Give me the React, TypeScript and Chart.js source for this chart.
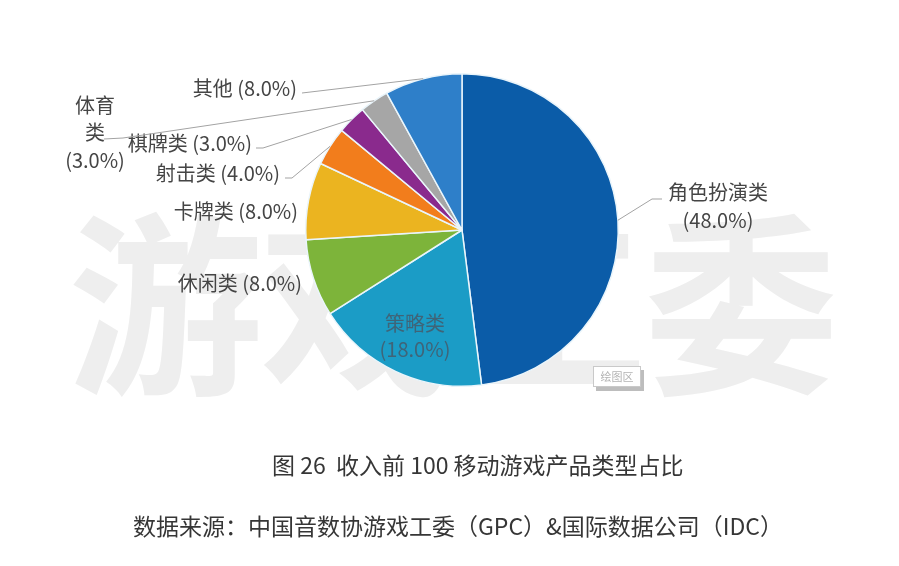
import React, { useEffect, useRef } from "react";
import { Chart, registerables } from "chart.js";

Chart.register(...registerables);

// ---- data ----
const categories = ["角色扮演类", "策略类", "休闲类", "卡牌类", "射击类", "棋牌类", "体育类", "其他"];
const shares = [48, 18, 8, 8, 4, 3, 3, 8];
const sliceColors = ["#0b5ca8", "#1b9cc6", "#7db43a", "#ebb420", "#f27d1c", "#8a2a8d", "#a6a6a6", "#2e7fc9"];
const titleText = "图 26  收入前 100 移动游戏产品类型占比";
const sourceText = "数据来源：中国音数协游戏工委（GPC）&国际数据公司（IDC）";
const watermarkText = "游戏工委";
const plotAreaTag = "绘图区";

// ---- label layout (text anchor positions, not marks) ----
type LabelSpec = {
  mode: "one" | "two" | "stack";
  x: number;
  y: number;
  gap?: number;
  align: CanvasTextAlign;
  color?: string;
  breakAt?: number;
  leader?: number[][];
};
const labelLayout: LabelSpec[] = [
  { mode: "two", x: 718, y: 192, gap: 28, align: "center", leader: [[662, 199], [652, 199]] },
  { mode: "two", x: 415, y: 323, gap: 26, align: "center", color: "#3f6478" },
  { mode: "one", x: 302, y: 283, align: "right" },
  { mode: "one", x: 298, y: 211, align: "right" },
  { mode: "one", x: 280, y: 173, align: "right", leader: [[285, 178], [292, 178]] },
  { mode: "one", x: 252, y: 143, align: "right", leader: [[256, 148], [263, 148]] },
  { mode: "stack", x: 95, y: 105, gap: 27.5, align: "center", breakAt: 2, leader: [[104, 139], [123, 138]] },
  { mode: "one", x: 297, y: 88, align: "right", leader: [[302, 93]] },
];

const FONT = '"Noto Sans CJK SC", "Noto Sans", sans-serif';

const labelPlugin = {
  id: "sliceLabels",
  afterDatasetsDraw(chart: any) {
    const ctx: CanvasRenderingContext2D = chart.ctx;
    const meta = chart.getDatasetMeta(0);
    ctx.save();
    meta.data.forEach((arc: any, i: number) => {
      const spec = labelLayout[i];
      if (!spec) return;
      const p = arc.getProps(["x", "y", "startAngle", "endAngle", "outerRadius"], true);
      const mid = (p.startAngle + p.endAngle) / 2;
      const ex = p.x + Math.cos(mid) * p.outerRadius;
      const ey = p.y + Math.sin(mid) * p.outerRadius;
      if (spec.leader) {
        ctx.beginPath();
        ctx.strokeStyle = "#a3a3a3";
        ctx.lineWidth = 1;
        ctx.moveTo(spec.leader[0][0], spec.leader[0][1]);
        for (let k = 1; k < spec.leader.length; k++) ctx.lineTo(spec.leader[k][0], spec.leader[k][1]);
        ctx.lineTo(ex, ey);
        ctx.stroke();
      }
      const name = categories[i];
      const pct = "(" + shares[i].toFixed(1) + "%)";
      let lines: string[];
      if (spec.mode === "one") lines = [name + " " + pct];
      else if (spec.mode === "two") lines = [name, pct];
      else lines = [name.slice(0, spec.breakAt), name.slice(spec.breakAt), pct];
      ctx.font = "20px " + FONT;
      ctx.fillStyle = spec.color || "#454545";
      ctx.textAlign = spec.align;
      ctx.textBaseline = "middle";
      lines.forEach((t, k) => ctx.fillText(t, spec.x, spec.y + k * (spec.gap || 0)));
    });
    ctx.restore();
  },
};

function PieChart() {
  const ref = useRef<HTMLCanvasElement | null>(null);
  useEffect(() => {
    if (!ref.current) return;
    const chart = new Chart(ref.current, {
      type: "pie",
      data: {
        labels: categories,
        datasets: [
          {
            data: shares,
            backgroundColor: sliceColors,
            borderColor: "#eaf5fb",
            borderWidth: 1.5,
          },
        ],
      },
      options: {
        responsive: false,
        animation: false,
        devicePixelRatio: 1,
        layout: { padding: { left: 305, right: 280, top: 73, bottom: 179 } },
        plugins: { legend: { display: false }, tooltip: { enabled: false } },
        events: [],
      },
      plugins: [labelPlugin],
    } as any);
    return () => chart.destroy();
  }, []);
  return <canvas ref={ref} width={899} height={566} style={{ position: "absolute", left: 0, top: 0 }} />;
}

export default function App() {
  return (
    <div
      style={{
        position: "absolute",
        left: 0,
        top: 0,
        width: 899,
        height: 566,
        background: "#ffffff",
        overflow: "hidden",
        fontFamily: FONT,
      }}
    >
      <div
        style={{
          position: "absolute",
          left: 68,
          top: 198,
          fontSize: 195,
          fontWeight: 700,
          lineHeight: 1,
          color: "#eeeeee",
          whiteSpace: "nowrap",
          letterSpacing: -3,
        }}
      >
        {watermarkText}
      </div>
      <PieChart />
      <div
        style={{
          position: "absolute",
          left: 593,
          top: 366,
          width: 46,
          height: 19,
          border: "1px solid #c9c9c9",
          background: "#ffffff",
          boxShadow: "3px 4px 0 #bdbdbd",
          fontSize: 11,
          lineHeight: "19px",
          color: "#b3b3b3",
          textAlign: "center",
        }}
      >
        {plotAreaTag}
      </div>
      <div
        style={{
          position: "absolute",
          left: 272,
          top: 453,
          fontSize: 23,
          lineHeight: 1,
          color: "#363636",
          whiteSpace: "pre",
        }}
      >
        {titleText}
      </div>
      <div
        style={{
          position: "absolute",
          left: 133,
          top: 514,
          fontSize: 23,
          lineHeight: 1,
          color: "#363636",
          whiteSpace: "pre",
        }}
      >
        {sourceText}
      </div>
    </div>
  );
}
